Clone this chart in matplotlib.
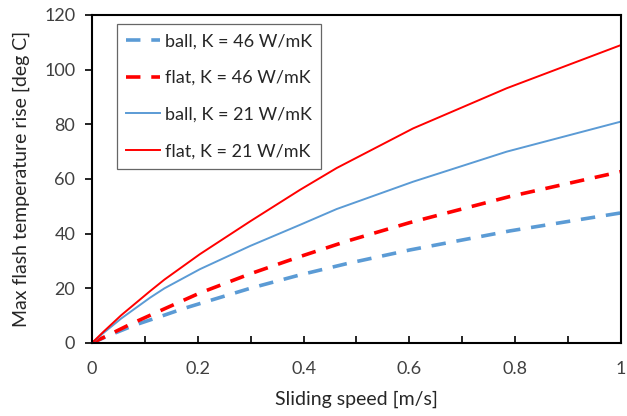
import matplotlib
matplotlib.use("Agg")
import matplotlib.pyplot as plt
from matplotlib.ticker import MultipleLocator

plt.rcParams['font.family'] = ['Lato', 'DejaVu Sans']

speed_r21 = [0, 0.02, 0.0555, 0.11, 0.137, 0.204, 0.299, 0.393, 0.4625, 0.607, 0.784, 1.0]
flat_21 = [0, 3.8, 10.2, 19.0, 23.2, 32.5, 44.5, 56.0, 64.0, 78.5, 93.2, 109.0]

speed_b21 = [0, 0.02, 0.0555, 0.11, 0.137, 0.204, 0.299, 0.393, 0.4625, 0.607, 0.784, 1.0]
ball_21 = [0, 3.4, 9.0, 16.6, 20.0, 27.0, 35.5, 43.2, 49.0, 59.0, 70.0, 81.0]

speed_f46 = [0, 0.03, 0.074, 0.137, 0.204, 0.299, 0.393, 0.481, 0.6, 0.79, 1.0]
flat_46 = [0, 2.8, 7.0, 12.5, 18.3, 25.3, 31.6, 37.2, 44.0, 53.6, 62.7]

speed_b46 = [0, 0.03, 0.08, 0.137, 0.173, 0.299, 0.393, 0.481, 0.6, 0.79, 1.0]
ball_46 = [0, 2.6, 6.5, 10.2, 12.6, 20.0, 24.9, 29.0, 34.0, 41.0, 47.6]

labels = ["ball, K = 46 W/mK", "flat, K = 46 W/mK",
          "ball, K = 21 W/mK", "flat, K = 21 W/mK"]
xticks = [0, 0.2, 0.4, 0.6, 0.8, 1.0]
xticklabels = ["0", "0.2", "0.4", "0.6", "0.8", "1"]

blue = "#5B9BD5"
red = "#FF0000"

fig = plt.figure(figsize=(6.27, 4.16), dpi=100)
ax = fig.add_axes([0.1467, 0.1755, 0.8437, 0.7885])

ax.plot(speed_b46, ball_46, color=blue, lw=2.6, dashes=(4, 3), label=labels[0])
ax.plot(speed_f46, flat_46, color=red, lw=2.6, dashes=(4, 3), label=labels[1])
ax.plot(speed_b21, ball_21, color=blue, lw=1.4, label=labels[2])
ax.plot(speed_r21, flat_21, color=red, lw=1.4, label=labels[3])

ax.set_xlim(0, 1)
ax.set_ylim(0, 120)
ax.set_xticks(xticks)
ax.set_xticklabels(xticklabels)
ax.xaxis.set_minor_locator(MultipleLocator(0.1))
ax.yaxis.set_major_locator(MultipleLocator(20))

ax.tick_params(axis='x', which='both', direction='in', length=5, width=1.2,
               labelsize=13, colors='#000000', labelcolor='#404040', pad=13)
ax.tick_params(axis='y', which='major', direction='out', length=5, width=1.2,
               labelsize=13, labelcolor='#404040', pad=7)
for s in ax.spines.values():
    s.set_linewidth(1.5)
    s.set_color('black')

ax.set_xlabel("Sliding speed [m/s]", fontsize=14, color='#262626', labelpad=10)
ax.set_ylabel("Max flash temperature rise [deg C]", fontsize=14, color='#262626', labelpad=10)

leg = ax.legend(loc='upper left', bbox_to_anchor=(0.047, 0.972), fontsize=13,
                frameon=True, fancybox=False, handlelength=1.9, handletextpad=0.25,
                borderpad=0.5, labelspacing=1.15, borderaxespad=0)
leg.get_frame().set_edgecolor('#404040')
leg.get_frame().set_linewidth(0.9)
for t in leg.get_texts():
    t.set_color('#262626')

fig.savefig("out.png", dpi=100)
